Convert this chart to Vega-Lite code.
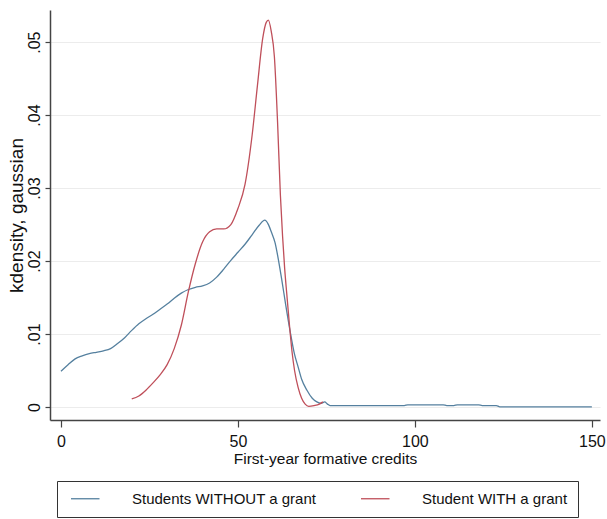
{
  "$schema": "https://vega.github.io/schema/vega-lite/v6.json",
  "width": 550,
  "height": 410,
  "autosize": {"type": "none"},
  "padding": {"left": 50, "top": 10, "right": 7, "bottom": 99},
  "background": "white",
  "config": {"view": {"stroke": null}, "font": "Liberation Sans"},
  "data": {"values": [
    {"series": "Students WITHOUT a grant", "x": 0, "y": 0.0049},
    {"series": "Students WITHOUT a grant", "x": 2, "y": 0.0058},
    {"series": "Students WITHOUT a grant", "x": 4, "y": 0.0066},
    {"series": "Students WITHOUT a grant", "x": 6, "y": 0.0070},
    {"series": "Students WITHOUT a grant", "x": 8, "y": 0.0073},
    {"series": "Students WITHOUT a grant", "x": 10, "y": 0.0075},
    {"series": "Students WITHOUT a grant", "x": 12, "y": 0.0077},
    {"series": "Students WITHOUT a grant", "x": 14, "y": 0.0080},
    {"series": "Students WITHOUT a grant", "x": 16, "y": 0.0087},
    {"series": "Students WITHOUT a grant", "x": 18, "y": 0.0095},
    {"series": "Students WITHOUT a grant", "x": 20, "y": 0.0105},
    {"series": "Students WITHOUT a grant", "x": 22, "y": 0.0114},
    {"series": "Students WITHOUT a grant", "x": 24, "y": 0.0121},
    {"series": "Students WITHOUT a grant", "x": 26, "y": 0.0127},
    {"series": "Students WITHOUT a grant", "x": 28, "y": 0.0134},
    {"series": "Students WITHOUT a grant", "x": 30, "y": 0.0141},
    {"series": "Students WITHOUT a grant", "x": 32, "y": 0.0149},
    {"series": "Students WITHOUT a grant", "x": 34, "y": 0.0156},
    {"series": "Students WITHOUT a grant", "x": 36, "y": 0.0161},
    {"series": "Students WITHOUT a grant", "x": 38, "y": 0.0164},
    {"series": "Students WITHOUT a grant", "x": 40, "y": 0.0166},
    {"series": "Students WITHOUT a grant", "x": 42, "y": 0.0170},
    {"series": "Students WITHOUT a grant", "x": 44, "y": 0.0178},
    {"series": "Students WITHOUT a grant", "x": 46, "y": 0.0189},
    {"series": "Students WITHOUT a grant", "x": 48, "y": 0.0201},
    {"series": "Students WITHOUT a grant", "x": 50, "y": 0.0212},
    {"series": "Students WITHOUT a grant", "x": 52, "y": 0.0223},
    {"series": "Students WITHOUT a grant", "x": 54, "y": 0.0236},
    {"series": "Students WITHOUT a grant", "x": 56, "y": 0.0249},
    {"series": "Students WITHOUT a grant", "x": 57.6, "y": 0.0256},
    {"series": "Students WITHOUT a grant", "x": 58.5, "y": 0.0251},
    {"series": "Students WITHOUT a grant", "x": 59.5, "y": 0.0239},
    {"series": "Students WITHOUT a grant", "x": 60.5, "y": 0.0225},
    {"series": "Students WITHOUT a grant", "x": 61.5, "y": 0.0200},
    {"series": "Students WITHOUT a grant", "x": 62.4, "y": 0.0174},
    {"series": "Students WITHOUT a grant", "x": 63.5, "y": 0.0140},
    {"series": "Students WITHOUT a grant", "x": 64.7, "y": 0.0105},
    {"series": "Students WITHOUT a grant", "x": 66, "y": 0.0072},
    {"series": "Students WITHOUT a grant", "x": 67, "y": 0.0055},
    {"series": "Students WITHOUT a grant", "x": 68, "y": 0.0038},
    {"series": "Students WITHOUT a grant", "x": 69.5, "y": 0.0023},
    {"series": "Students WITHOUT a grant", "x": 71, "y": 0.0012},
    {"series": "Students WITHOUT a grant", "x": 72.3, "y": 0.0007},
    {"series": "Students WITHOUT a grant", "x": 73.5, "y": 0.0005},
    {"series": "Students WITHOUT a grant", "x": 74.5, "y": 0.0007},
    {"series": "Students WITHOUT a grant", "x": 75.3, "y": 0.0004},
    {"series": "Students WITHOUT a grant", "x": 76, "y": 0.0002},
    {"series": "Students WITHOUT a grant", "x": 97, "y": 0.0002},
    {"series": "Students WITHOUT a grant", "x": 98, "y": 0.0003},
    {"series": "Students WITHOUT a grant", "x": 108, "y": 0.0003},
    {"series": "Students WITHOUT a grant", "x": 109, "y": 0.0002},
    {"series": "Students WITHOUT a grant", "x": 111, "y": 0.0002},
    {"series": "Students WITHOUT a grant", "x": 112, "y": 0.0003},
    {"series": "Students WITHOUT a grant", "x": 118, "y": 0.0003},
    {"series": "Students WITHOUT a grant", "x": 119, "y": 0.0002},
    {"series": "Students WITHOUT a grant", "x": 123, "y": 0.0002},
    {"series": "Students WITHOUT a grant", "x": 124, "y": 0.00003},
    {"series": "Students WITHOUT a grant", "x": 150, "y": 0.00003},
    {"series": "Student WITH a grant", "x": 20, "y": 0.0011},
    {"series": "Student WITH a grant", "x": 22, "y": 0.0015},
    {"series": "Student WITH a grant", "x": 24, "y": 0.0023},
    {"series": "Student WITH a grant", "x": 26, "y": 0.0033},
    {"series": "Student WITH a grant", "x": 28, "y": 0.0044},
    {"series": "Student WITH a grant", "x": 30, "y": 0.0058},
    {"series": "Student WITH a grant", "x": 32, "y": 0.0080},
    {"series": "Student WITH a grant", "x": 34, "y": 0.0112},
    {"series": "Student WITH a grant", "x": 36, "y": 0.0158},
    {"series": "Student WITH a grant", "x": 38, "y": 0.0197},
    {"series": "Student WITH a grant", "x": 40, "y": 0.0226},
    {"series": "Student WITH a grant", "x": 42, "y": 0.0240},
    {"series": "Student WITH a grant", "x": 44, "y": 0.0244},
    {"series": "Student WITH a grant", "x": 46, "y": 0.0244},
    {"series": "Student WITH a grant", "x": 48, "y": 0.0250},
    {"series": "Student WITH a grant", "x": 50, "y": 0.0272},
    {"series": "Student WITH a grant", "x": 52, "y": 0.0305},
    {"series": "Student WITH a grant", "x": 54, "y": 0.0372},
    {"series": "Student WITH a grant", "x": 55.5, "y": 0.0440},
    {"series": "Student WITH a grant", "x": 57, "y": 0.0505},
    {"series": "Student WITH a grant", "x": 58, "y": 0.0527},
    {"series": "Student WITH a grant", "x": 58.6, "y": 0.0530},
    {"series": "Student WITH a grant", "x": 59.4, "y": 0.0515},
    {"series": "Student WITH a grant", "x": 60.3, "y": 0.0480},
    {"series": "Student WITH a grant", "x": 61.2, "y": 0.0390},
    {"series": "Student WITH a grant", "x": 62, "y": 0.0290},
    {"series": "Student WITH a grant", "x": 62.6, "y": 0.0235},
    {"series": "Student WITH a grant", "x": 63.2, "y": 0.0190},
    {"series": "Student WITH a grant", "x": 63.8, "y": 0.0155},
    {"series": "Student WITH a grant", "x": 64.6, "y": 0.0110},
    {"series": "Student WITH a grant", "x": 65.3, "y": 0.0075},
    {"series": "Student WITH a grant", "x": 66, "y": 0.0050},
    {"series": "Student WITH a grant", "x": 67, "y": 0.0027},
    {"series": "Student WITH a grant", "x": 68, "y": 0.0012},
    {"series": "Student WITH a grant", "x": 69, "y": 0.0004},
    {"series": "Student WITH a grant", "x": 70, "y": 0.0001},
    {"series": "Student WITH a grant", "x": 71.5, "y": 0.0002},
    {"series": "Student WITH a grant", "x": 73, "y": 0.0004},
    {"series": "Student WITH a grant", "x": 74, "y": 0.0007}
  ]},
  "mark": {"type": "line", "strokeWidth": 1.3, "interpolate": "monotone"},
  "encoding": {
    "x": {
      "field": "x", "type": "quantitative",
      "scale": {"domain": [-3.1, 152.3], "nice": false, "zero": false},
      "axis": {
        "values": [0, 50, 100, 150], "grid": false,
        "domainColor": "#444", "domainWidth": 1.5, "tickColor": "#444", "tickWidth": 1.2, "tickSize": 7,
        "labelFontSize": 16, "labelColor": "#111", "labelPadding": 6,
        "title": "First-year formative credits", "titleFontSize": 15.5, "titleFontWeight": "normal",
        "titleColor": "#111", "titlePadding": 2
      }
    },
    "y": {
      "field": "y", "type": "quantitative",
      "scale": {"domain": [-0.00178, 0.0544], "nice": false, "zero": false},
      "axis": {
        "values": [0, 0.01, 0.02, 0.03, 0.04, 0.05],
        "labelExpr": "datum.value == 0 ? '0' : replace(format(datum.value, '.2f'), '0.', '.')",
        "grid": true, "gridColor": "#ececec", "gridWidth": 1.2,
        "domainColor": "#444", "domainWidth": 1.5, "tickColor": "#444", "tickWidth": 1.2, "tickSize": 5,
        "labelAngle": 270, "labelAlign": "center", "labelBaseline": "bottom",
        "labelFontSize": 16, "labelColor": "#111", "labelPadding": 3,
        "title": "kdensity, gaussian", "titleFontSize": 19, "titleFontWeight": "normal",
        "titleColor": "#111", "titlePadding": 0
      }
    },
    "color": {
      "field": "series", "type": "nominal",
      "scale": {"domain": ["Students WITHOUT a grant", "Student WITH a grant"], "range": ["#55809f", "#bf4f5a"]},
      "legend": {
        "orient": "none", "legendX": 7, "legendY": 471, "direction": "horizontal",
        "title": null, "strokeColor": "#333", "padding": 10,
        "symbolType": "M-0.7,0L5,0", "symbolSize": 100, "symbolStrokeWidth": 1.3,
        "labelFontSize": 15, "labelColor": "#111", "labelLimit": 300, "labelOffset": 50,
        "columnPadding": 40
      }
    }
  }
}
